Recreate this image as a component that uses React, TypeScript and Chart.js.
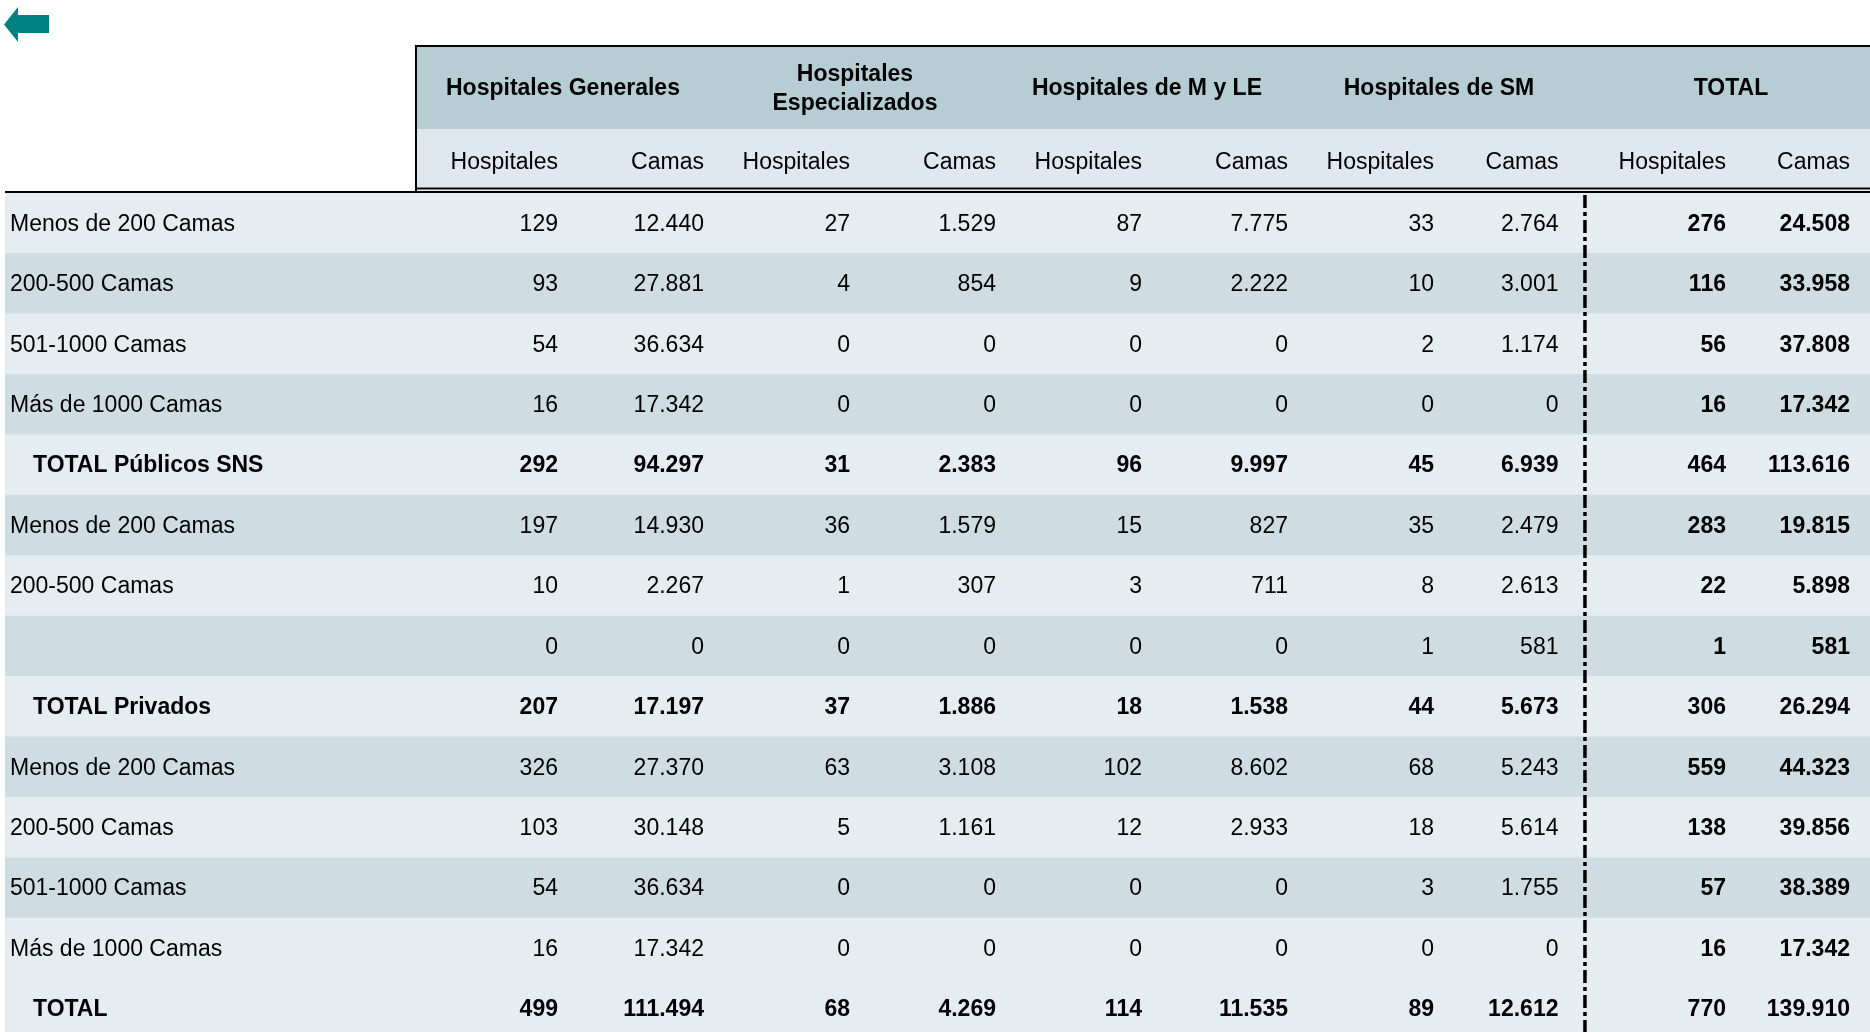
import { useEffect, useRef } from 'react';
import { Chart, registerables } from 'chart.js';

Chart.register(...registerables);

// ---------- data ----------
const rowLabels = [
  'Menos de 200 Camas',
  '200-500 Camas',
  '501-1000 Camas',
  'Más de 1000 Camas',
  'TOTAL Públicos SNS',
  'Menos de 200 Camas',
  '200-500 Camas',
  '',
  'TOTAL Privados',
  'Menos de 200 Camas',
  '200-500 Camas',
  '501-1000 Camas',
  'Más de 1000 Camas',
  'TOTAL',
];
const totalRows = [false, false, false, false, true, false, false, false, true, false, false, false, false, true];
const rowShade = [0, 1, 0, 1, 0, 1, 0, 1, 0, 1, 0, 1, 0, 0];

const groupLabels = [
  ['Hospitales Generales'],
  ['Hospitales', 'Especializados'],
  ['Hospitales de M y LE'],
  ['Hospitales de SM'],
  ['TOTAL'],
];
const subLabels = ['Hospitales', 'Camas'];

const hgHosp = [129, 93, 54, 16, 292, 197, 10, 0, 207, 326, 103, 54, 16, 499];
const hgCamas = [12440, 27881, 36634, 17342, 94297, 14930, 2267, 0, 17197, 27370, 30148, 36634, 17342, 111494];
const heHosp = [27, 4, 0, 0, 31, 36, 1, 0, 37, 63, 5, 0, 0, 68];
const heCamas = [1529, 854, 0, 0, 2383, 1579, 307, 0, 1886, 3108, 1161, 0, 0, 4269];
const mleHosp = [87, 9, 0, 0, 96, 15, 3, 0, 18, 102, 12, 0, 0, 114];
const mleCamas = [7775, 2222, 0, 0, 9997, 827, 711, 0, 1538, 8602, 2933, 0, 0, 11535];
const smHosp = [33, 10, 2, 0, 45, 35, 8, 1, 44, 68, 18, 3, 0, 89];
const smCamas = [2764, 3001, 1174, 0, 6939, 2479, 2613, 581, 5673, 5243, 5614, 1755, 0, 12612];
const totHosp = [276, 116, 56, 16, 464, 283, 22, 1, 306, 559, 138, 57, 16, 770];
const totCamas = [24508, 33958, 37808, 17342, 113616, 19815, 5898, 581, 26294, 44323, 39856, 38389, 17342, 139910];

const columns = [hgHosp, hgCamas, heHosp, heCamas, mleHosp, mleCamas, smHosp, smCamas, totHosp, totCamas];
const boldColumns = [false, false, false, false, false, false, false, false, true, true];

// ---------- style ----------
const FONT = '"Liberation Sans", Arial, Helvetica, sans-serif';
const FS = 23;
const X_MIN = -2.808;
const X_MAX = 9.966;
const colPad = [3, 3, 3, 3, 3, 3, 3, 24.5, 3, 25];
const HEADER_DARK = '#b6cdd3';
const HEADER_LIGHT = '#dfe8ee';
const ROW_LIGHT = '#e5edf0';
const ROW_DARK = '#cfdde2';
const TEAL = '#008080';
const CANVAS_W = 1870;
const CANVAS_H = 1039;

const fmt = (n: number) => String(n).replace(/\B(?=(\d{3})+(?!\d))/g, '.');

const tablePlugin = {
  id: 'tablePlugin',
  afterDatasetsDraw(chart: any) {
    const { ctx, chartArea } = chart;
    const x = chart.scales.x;
    const y = chart.scales.y;
    const xr = chartArea.right;
    const hx = x.getPixelForValue(0) + 1;
    ctx.save();

    // back arrow
    ctx.fillStyle = TEAL;
    ctx.beginPath();
    ctx.moveTo(4, 24.5);
    ctx.lineTo(18, 7);
    ctx.lineTo(18, 15);
    ctx.lineTo(49, 15);
    ctx.lineTo(49, 33);
    ctx.lineTo(18, 33);
    ctx.lineTo(18, 42);
    ctx.closePath();
    ctx.fill();

    // header bands
    ctx.fillStyle = HEADER_DARK;
    ctx.fillRect(hx, 46, xr - hx, 83.5);
    ctx.fillStyle = HEADER_LIGHT;
    ctx.fillRect(hx, 129.5, xr - hx, 58);
    ctx.fillStyle = '#f2f6f8';
    ctx.fillRect(hx, 189, xr - hx, 2);

    ctx.fillStyle = '#000';
    ctx.fillRect(hx - 1, 45, xr - hx + 1, 2);
    ctx.fillRect(hx - 1, 45, 2, 148);
    ctx.fillRect(hx, 187.5, xr - hx, 2);
    ctx.fillRect(chartArea.left, 191, xr - chartArea.left, 2);

    // group headers
    ctx.fillStyle = '#000';
    ctx.textAlign = 'center';
    ctx.textBaseline = 'alphabetic';
    ctx.font = `bold ${FS}px ${FONT}`;
    groupLabels.forEach((lines, g) => {
      const cx = x.getPixelForValue(2 * g + 1) + 2;
      if (lines.length === 1) {
        ctx.fillText(lines[0], cx, 95);
      } else {
        ctx.fillText(lines[0], cx, 81);
        ctx.fillText(lines[1], cx, 109.5);
      }
    });

    // sub headers
    ctx.font = `${FS}px ${FONT}`;
    ctx.textAlign = 'right';
    columns.forEach((_, c) => {
      ctx.fillText(subLabels[c % 2], x.getPixelForValue(c + 1) - colPad[c], 169);
    });

    // body
    rowLabels.forEach((label, r) => {
      const yc = y.getPixelForValue(r) + 7.5;
      const bold = totalRows[r];
      ctx.textAlign = 'left';
      ctx.font = `${bold ? 'bold ' : ''}${FS}px ${FONT}`;
      ctx.fillText(label, chartArea.left + (bold ? 28 : 5), yc);
      ctx.textAlign = 'right';
      columns.forEach((col, c) => {
        const b = bold || boldColumns[c];
        ctx.font = `${b ? 'bold ' : ''}${FS}px ${FONT}`;
        ctx.fillText(fmt(col[r]), x.getPixelForValue(c + 1) - colPad[c], yc);
      });
    });

    // dash-dot separator before TOTAL
    const dx = x.getPixelForValue(8) + 2;
    ctx.strokeStyle = '#000';
    ctx.lineWidth = 3.5;
    ctx.setLineDash([13, 4, 4, 4]);
    ctx.beginPath();
    ctx.moveTo(dx, 195);
    ctx.lineTo(dx, chart.height);
    ctx.stroke();

    ctx.restore();
  },
};

export default function App() {
  const ref = useRef<HTMLCanvasElement | null>(null);

  useEffect(() => {
    document.body.style.margin = '0';
    document.body.style.overflow = 'hidden';
    const canvas = ref.current;
    if (!canvas) return;
    const chart = new Chart(canvas, {
      type: 'bar',
      data: {
        labels: rowLabels.map((_, i) => String(i)),
        datasets: [
          {
            data: rowLabels.map(() => [X_MIN, X_MAX]) as any,
            backgroundColor: rowShade.map((s) => (s ? ROW_DARK : ROW_LIGHT)),
            borderWidth: 0,
            barPercentage: 1,
            categoryPercentage: 1,
          },
        ],
      },
      options: {
        indexAxis: 'y',
        responsive: false,
        animation: false,
        devicePixelRatio: 1,
        events: [],
        layout: { padding: { top: 193, left: 5, right: 0, bottom: 0 } },
        scales: {
          x: { type: 'linear', min: X_MIN, max: X_MAX, display: false },
          y: { type: 'category', display: false, offset: true },
        },
        plugins: { legend: { display: false }, tooltip: { enabled: false } },
      },
      plugins: [tablePlugin],
    });
    return () => chart.destroy();
  }, []);

  return <canvas ref={ref} width={CANVAS_W} height={CANVAS_H} style={{ display: 'block' }} />;
}
